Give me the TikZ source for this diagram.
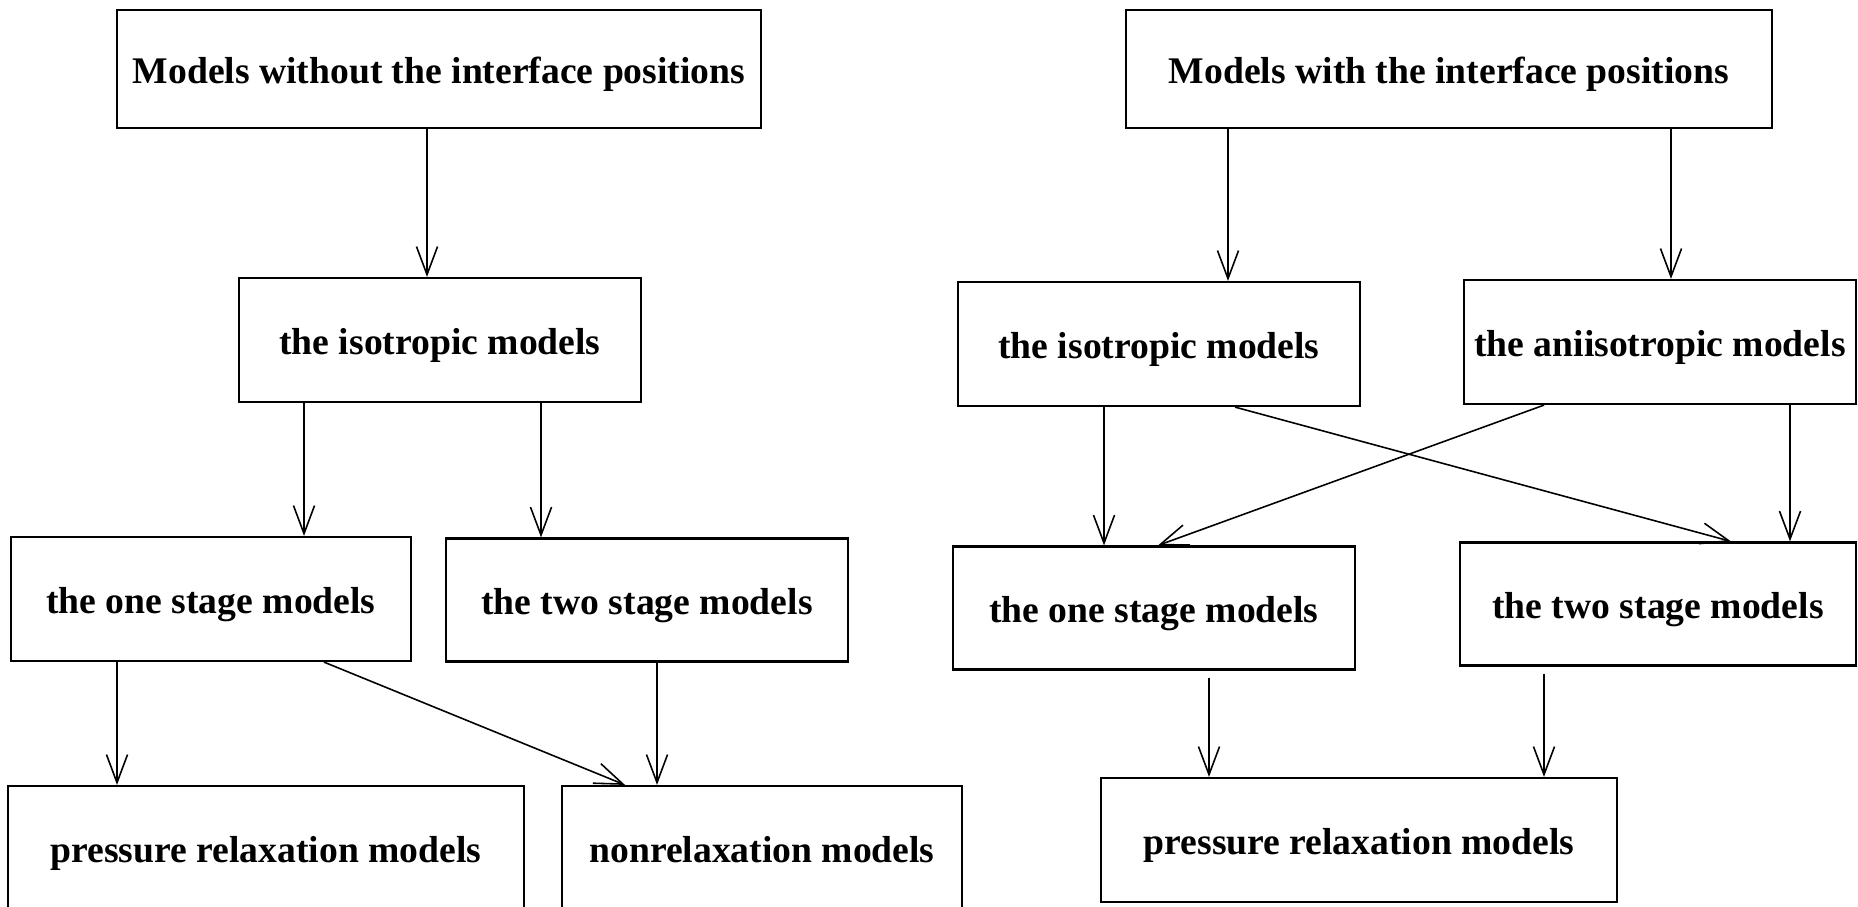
\documentclass[tikz,border=0pt]{standalone}
\usepackage{fontspec}
\setmainfont{Liberation Serif}
\usetikzlibrary{arrows.meta}
\begin{document}
\begin{tikzpicture}[x=0.01cm,y=-0.01cm,
box/.style={draw,line width=0.6pt,inner sep=0pt,text height=10.5pt,text depth=2.4pt,font=\fontsize{10.7}{13}\selectfont\bfseries},
arr/.style={line width=0.45pt,-{Straight Barb[length=8pt,width=6pt]}}]
\useasboundingbox (0,0) rectangle (1858,906);\clip (0,0) rectangle (1858,906);
\node[box,minimum width=6.44cm,minimum height=1.18cm] (top1) at (439,69){Models without the interface positions};
\node[box,minimum width=4.01cm,minimum height=1.24cm] (iso1) at (440,340){the isotropic models};
\node[box,minimum width=4cm,minimum height=1.24cm] (one1) at (211,599){the one stage models};
\node[box,minimum width=4.01cm,minimum height=1.23cm] (two1) at (647,600){the two stage models};
\node[box,minimum width=5.15cm,minimum height=1.24cm] (prs1) at (266,848){pressure relaxation models};
\node[box,minimum width=4cm,minimum height=1.24cm] (non1) at (762,848){nonrelaxation models};
\node[box,minimum width=6.46cm,minimum height=1.18cm] (top2) at (1449,69){Models with the interface positions};
\node[box,minimum width=4.02cm,minimum height=1.24cm] (iso2) at (1159,344){the isotropic models};
\node[box,minimum width=3.92cm,minimum height=1.24cm] (ani2) at (1660,342){the aniisotropic models};
\node[box,minimum width=4.01cm,minimum height=1.23cm] (one2) at (1154,608){the one stage models};
\node[box,minimum width=3.96cm,minimum height=1.23cm] (two2) at (1658,604){the two stage models};
\node[box,minimum width=5.16cm,minimum height=1.24cm] (prs2) at (1359,840){pressure relaxation models};
\draw[arr] (top1.south -| 427,0)--(iso1.north -| 427,0);
\draw[arr] (iso1.south -| 304,0)--(one1.north -| 304,0);\draw[arr] (iso1.south -| 541,0)--(two1.north -| 541,0);
\draw[arr] (one1.south -| 117,0)--(prs1.north -| 117,0);\draw[arr] (two1.south -| 657,0)--(non1.north -| 657,0);
\draw[arr] (one1.south -| 324,0)--(non1.north -| 625,0);
\draw[arr] (top2.south -| 1228,0)--(iso2.north -| 1228,0);\draw[arr] (top2.south -| 1671,0)--(ani2.north -| 1671,0);
\draw[arr] (iso2.south -| 1104,0)--(one2.north -| 1104,0);\draw[arr] (ani2.south -| 1790,0)--(two2.north -| 1790,0);
\draw[arr] (iso2.south -| 1235,0)--(two2.north -| 1731,0);\draw[arr] (ani2.south -| 1544,0)--(one2.north -| 1158,0);
\draw[arr,shorten <=2pt] (one2.south -| 1209,0)--(prs2.north -| 1209,0);\draw[arr,shorten <=2pt] (two2.south -| 1544,0)--(prs2.north -| 1544,0);
\end{tikzpicture}
\end{document}
